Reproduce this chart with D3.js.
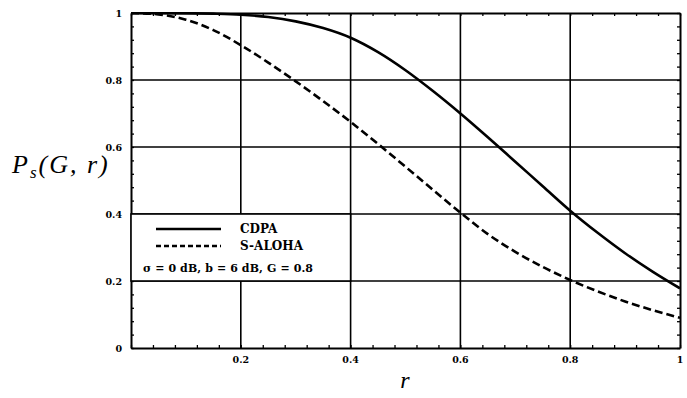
<!DOCTYPE html>
<html>
<head>
<meta charset="utf-8">
<script src="https://cdn.jsdelivr.net/npm/d3@7"></script>
<style>
  body { margin: 0; background: #fff; }
  svg { display: block; }
  .tick-lbl { font-family: "DejaVu Serif", serif; font-weight: bold; font-size: 9.5px; }
  .leg { font-family: "DejaVu Serif", serif; font-weight: bold; font-size: 12px; }
</style>
</head>
<body>
<script>
// r values and the two curves
var rVals   = [0, 0.05, 0.1, 0.15, 0.2, 0.25, 0.3, 0.35, 0.4, 0.45, 0.5, 0.55, 0.6, 0.65, 0.7, 0.75, 0.8, 0.85, 0.9, 0.95, 1.0];
var cdpa    = [1.000, 1.000, 0.9995, 0.998, 0.995, 0.988, 0.975, 0.955, 0.926, 0.883, 0.829, 0.767, 0.700, 0.629, 0.556, 0.483, 0.410, 0.344, 0.283, 0.228, 0.178];
var saloha  = [1.000, 0.996, 0.980, 0.949, 0.904, 0.852, 0.796, 0.737, 0.675, 0.609, 0.541, 0.472, 0.404, 0.340, 0.287, 0.242, 0.203, 0.169, 0.139, 0.113, 0.090];
var xTicks  = [0.2, 0.4, 0.6, 0.8, 1];
var yTicks  = [0, 0.2, 0.4, 0.6, 0.8, 1];
var xTickLabels = ["0.2", "0.4", "0.6", "0.8", "1"];
var yTickLabels = ["0", "0.2", "0.4", "0.6", "0.8", "1"];
var seriesNames = ["CDPA", "S-ALOHA"];
var noteText = "\u03C3 = 0 dB, b = 6 dB, G = 0.8";

var W = 687, H = 398;
var pL = 131, pR = 680, pT = 13, pB = 348;

var svg = d3.select("body").append("svg")
  .attr("width", W)
  .attr("height", H);

var x = d3.scaleLinear().domain([0, 1]).range([pL, pR]);
var y = d3.scaleLinear().domain([0, 1]).range([pB, pT]);

var minor = d3.range(0, 1.0001, 0.04);

// grid lines at major ticks
svg.append("g").selectAll("line")
  .data(xTicks.slice(0, -1))
  .enter().append("line")
  .attr("x1", function(d) { return x(d); })
  .attr("x2", function(d) { return x(d); })
  .attr("y1", pT).attr("y2", pB)
  .attr("stroke", "#000").attr("stroke-width", 1.6);

svg.append("g").selectAll("line")
  .data(yTicks.slice(1, -1))
  .enter().append("line")
  .attr("x1", pL).attr("x2", pR)
  .attr("y1", function(d) { return y(d); })
  .attr("y2", function(d) { return y(d); })
  .attr("stroke", "#000").attr("stroke-width", 1.6);

// minor ticks, inward on all four sides
var tk = 3;
var axB = d3.axisBottom(x).tickValues(minor).tickSizeInner(-tk).tickSizeOuter(0).tickFormat("");
var axT = d3.axisTop(x).tickValues(minor).tickSizeInner(-tk).tickSizeOuter(0).tickFormat("");
var axL = d3.axisLeft(y).tickValues(minor).tickSizeInner(-tk).tickSizeOuter(0).tickFormat("");
var axR = d3.axisRight(y).tickValues(minor).tickSizeInner(-tk).tickSizeOuter(0).tickFormat("");

svg.append("g").attr("transform", "translate(0," + pB + ")").call(axB);
svg.append("g").attr("transform", "translate(0," + pT + ")").call(axT);
svg.append("g").attr("transform", "translate(" + pL + ",0)").call(axL);
svg.append("g").attr("transform", "translate(" + pR + ",0)").call(axR);
svg.selectAll(".domain").attr("stroke", "#000").attr("stroke-width", 2);
svg.selectAll(".tick line").attr("stroke", "#000").attr("stroke-width", 1.3);

// tick labels
svg.append("g").selectAll("text")
  .data(xTicks)
  .enter().append("text")
  .attr("class", "tick-lbl")
  .attr("x", function(d) { return x(d); })
  .attr("y", pB + 15)
  .attr("text-anchor", "middle")
  .text(function(d, i) { return xTickLabels[i]; });

svg.append("g").selectAll("text")
  .data(yTicks)
  .enter().append("text")
  .attr("class", "tick-lbl")
  .attr("x", pL - 9)
  .attr("y", function(d) { return y(d) + 4; })
  .attr("text-anchor", "end")
  .text(function(d, i) { return yTickLabels[i]; });

// curves
var line = d3.line()
  .x(function(d) { return x(d[0]); })
  .y(function(d) { return y(d[1]); })
  .curve(d3.curveMonotoneX);

svg.append("clipPath").attr("id", "plotclip")
  .append("rect").attr("x", pL).attr("y", pT - 1)
  .attr("width", pR - pL).attr("height", pB - pT + 1);

svg.append("path")
  .datum(d3.zip(rVals, cdpa))
  .attr("d", line)
  .attr("clip-path", "url(#plotclip)")
  .attr("fill", "none").attr("stroke", "#000").attr("stroke-width", 2.6);

svg.append("path")
  .datum(d3.zip(rVals, saloha))
  .attr("d", line)
  .attr("clip-path", "url(#plotclip)")
  .attr("fill", "none").attr("stroke", "#000").attr("stroke-width", 2.6)
  .attr("stroke-dasharray", "8,4");

// legend box, sitting between the 0.4 and 0.2 grid lines
var leg = svg.append("g");
leg.append("rect")
  .attr("x", pL).attr("y", y(0.4))
  .attr("width", x(0.4) - pL).attr("height", y(0.2) - y(0.4))
  .attr("fill", "#fff").attr("stroke", "#000").attr("stroke-width", 1.6);

leg.selectAll("line")
  .data(seriesNames)
  .enter().append("line")
  .attr("x1", 156).attr("x2", 221)
  .attr("y1", function(d, i) { return 229 + i * 17; })
  .attr("y2", function(d, i) { return 229 + i * 17; })
  .attr("stroke", "#000").attr("stroke-width", 2.4)
  .attr("stroke-dasharray", function(d, i) { return i ? "5,3" : null; });

leg.selectAll("text.s")
  .data(seriesNames)
  .enter().append("text")
  .attr("class", "leg s")
  .attr("x", 240)
  .attr("y", function(d, i) { return 233 + i * 17; })
  .text(function(d) { return d; });

leg.append("text")
  .attr("class", "leg")
  .attr("x", 143).attr("y", 272)
  .attr("textLength", 170)
  .attr("lengthAdjust", "spacing")
  .style("font-size", "11px")
  .text(noteText);

// axis titles
var yt = svg.append("text")
  .attr("x", 12).attr("y", 173)
  .style("font-family", "'Liberation Serif', serif")
  .style("font-style", "italic")
  .style("font-size", "26px")
  .style("letter-spacing", "2px");
yt.append("tspan").text("P");
yt.append("tspan").attr("dy", 5).style("font-size", "17px").text("s");
yt.append("tspan").attr("dy", -5).text("(G, r)");

svg.append("text")
  .attr("x", 405).attr("y", 388)
  .attr("text-anchor", "middle")
  .style("font-family", "'Liberation Serif', serif")
  .style("font-style", "italic")
  .style("font-size", "24px")
  .text("r");
</script>
</body>
</html>
